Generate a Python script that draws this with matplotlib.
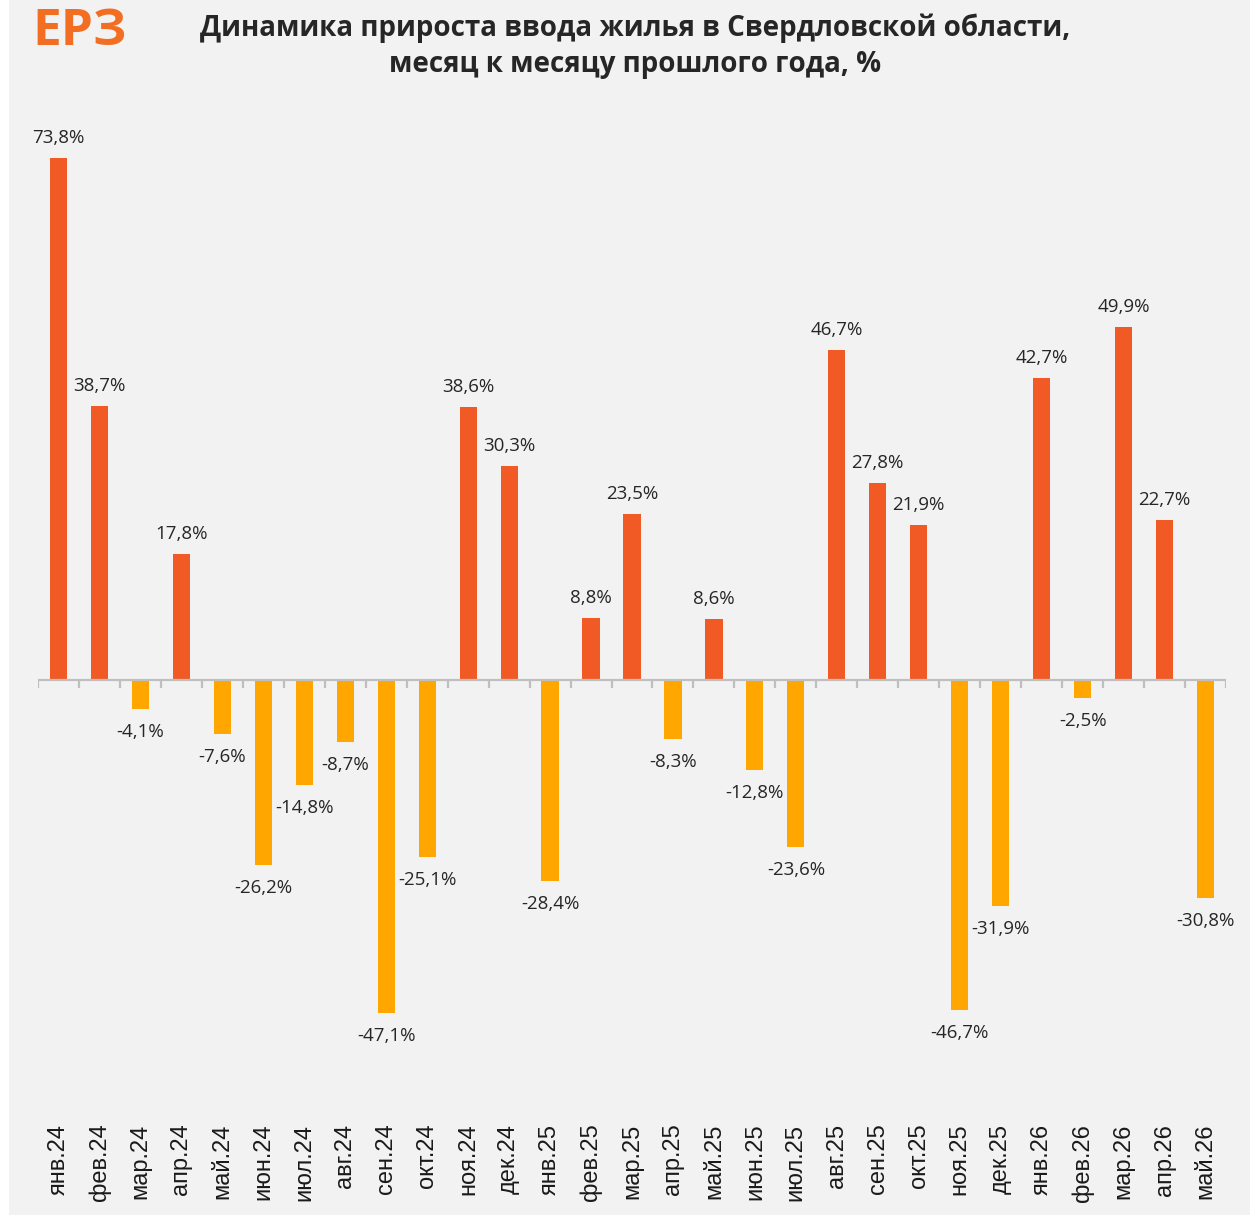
import matplotlib.pyplot as plt
from matplotlib.patches import Rectangle
import numpy as np

months = ["янв.24", "фев.24", "мар.24", "апр.24", "май.24", "июн.24", "июл.24",
          "авг.24", "сен.24", "окт.24", "ноя.24", "дек.24", "янв.25", "фев.25",
          "мар.25", "апр.25", "май.25", "июн.25", "июл.25", "авг.25", "сен.25",
          "окт.25", "ноя.25", "дек.25", "янв.26", "фев.26", "мар.26", "апр.26",
          "май.26"]
growth = [73.8, 38.7, -4.1, 17.8, -7.6, -26.2, -14.8, -8.7, -47.1, -25.1,
          38.6, 30.3, -28.4, 8.8, 23.5, -8.3, 8.6, -12.8, -23.6, 46.7,
          27.8, 21.9, -46.7, -31.9, 42.7, -2.5, 49.9, 22.7, -30.8]

POS_COLOR = "#F15A24"
NEG_COLOR = "#FFA600"
BG = "#F2F2F2"
TXT = "#262626"

W, H = 1250, 1216
fig = plt.figure(figsize=(W / 100, H / 100), dpi=100, facecolor="white")
fig.patches.append(Rectangle((9 / W, 1 / H), 1 - 9 / W, 1 - 1 / H,
                             transform=fig.transFigure, facecolor=BG,
                             edgecolor="none", zorder=-10))

# axes placement (pixels from top): zero line at 680, 7.07 px per %
ymin, ymax = -60, 80
ppu = 7.07
top_px = 680 - ymax * ppu
bot_px = 680 - ymin * ppu
ax = fig.add_axes([38 / W, 1 - bot_px / H, 1188 / W, (bot_px - top_px) / H])
ax.set_facecolor("none")

x = np.arange(len(months))
colors = [POS_COLOR if v >= 0 else NEG_COLOR for v in growth]
ax.bar(x, growth, width=0.42, color=colors, zorder=2)

for xi, v in zip(x, growth):
    lbl = f"{v:.1f}%".replace(".", ",")
    if v >= 0:
        ax.annotate(lbl, (xi, v), xytext=(0, 11), textcoords="offset pixels",
                    ha="center", va="bottom", fontsize=13.5, color=TXT,
                    family="Open Sans")
    else:
        ax.annotate(lbl, (xi, v), xytext=(0, -14), textcoords="offset pixels",
                    ha="center", va="top", fontsize=13.5, color=TXT,
                    family="Open Sans")

ax.set_xlim(-0.5, len(months) - 0.5)
ax.set_ylim(ymin, ymax)
ax.axhline(0, color="#BFBFBF", lw=1.6, zorder=3)
ax.vlines(np.arange(len(months) + 1) - 0.5, -1.1, 0, color="#BFBFBF", lw=1.6, zorder=3)

for s in ax.spines.values():
    s.set_visible(False)
ax.set_yticks([])
ax.set_xticks(x)
ax.set_xticklabels(months, rotation=90, fontsize=17, family="Liberation Sans", color="#1A1A1A")
ax.tick_params(axis="x", length=0, pad=14)

fig.text(635 / W, 1 - 46 / H,
         "Динамика прироста ввода жилья в Свердловской области,\nмесяц к месяцу прошлого года, %",
         ha="center", va="center", fontsize=20, fontweight="bold", color=TXT,
         family="Open Sans", linespacing=1.3)

fig.text(32 / W, 1 - 32 / H, "ЕРЗ", ha="left", va="center", fontsize=37,
         fontweight="bold", color="#F26E22", family="Open Sans")

fig.savefig("out.png", dpi=100, facecolor=fig.get_facecolor())
